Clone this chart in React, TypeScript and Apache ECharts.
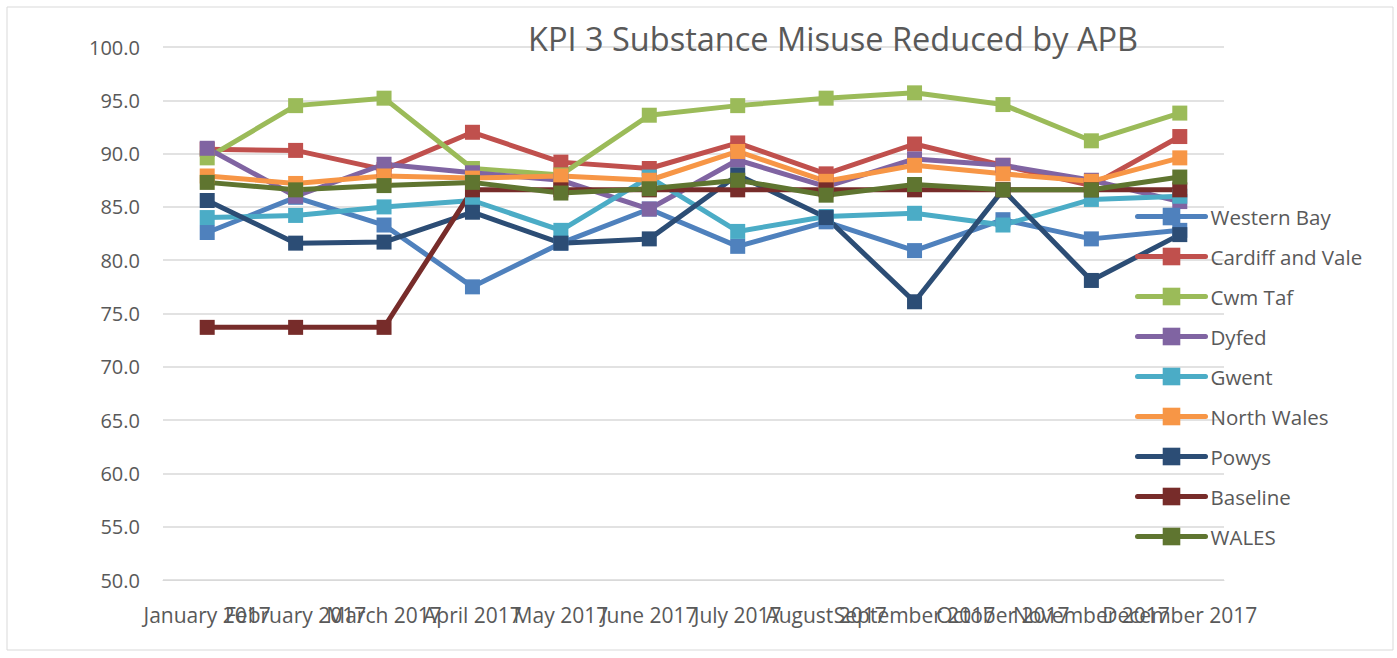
import React, { useEffect, useRef } from "react";
import * as echarts from "echarts";

const months = [
  "January 2017", "February 2017", "March 2017", "April 2017", "May 2017", "June 2017",
  "July 2017", "August 2017", "September 2017", "October 2017", "November 2017", "December 2017",
];
const westernBay = [82.6, 85.9, 83.3, 77.5, 81.6, 84.8, 81.3, 83.6, 80.9, 83.8, 82.0, 82.8];
const cardiffVale = [90.4, 90.3, 88.5, 92.0, 89.2, 88.6, 91.0, 88.1, 90.9, 88.9, 87.0, 91.6];
const cwmTaf = [89.6, 94.5, 95.2, 88.6, 88.0, 93.6, 94.5, 95.2, 95.7, 94.6, 91.2, 93.8];
const dyfed = [90.5, 86.0, 89.0, 88.2, 87.5, 84.8, 89.4, 86.9, 89.5, 88.9, 87.5, 85.5];
const gwent = [84.0, 84.2, 85.0, 85.6, 82.8, 87.8, 82.7, 84.1, 84.4, 83.3, 85.7, 86.0];
const northWales = [87.9, 87.2, 87.9, 87.7, 87.9, 87.5, 90.2, 87.4, 88.9, 88.1, 87.4, 89.6];
const powys = [85.6, 81.6, 81.7, 84.5, 81.6, 82.0, 88.0, 84.0, 76.1, 86.6, 78.1, 82.4];
const baseline = [73.7, 73.7, 73.7, 86.6, 86.6, 86.6, 86.6, 86.6, 86.6, 86.6, 86.6, 86.6];
const wales = [87.3, 86.6, 87.0, 87.3, 86.3, 86.7, 87.5, 86.1, 87.1, 86.6, 86.6, 87.8];
const yTicks = { min: 50, max: 100, interval: 5 };

const seriesDefs = [
  { name: "Western Bay", data: westernBay, color: "#4F81BD" },
  { name: "Cardiff and Vale", data: cardiffVale, color: "#C0504D" },
  { name: "Cwm Taf", data: cwmTaf, color: "#9BBB59" },
  { name: "Dyfed", data: dyfed, color: "#8064A2" },
  { name: "Gwent", data: gwent, color: "#4BACC6" },
  { name: "North Wales", data: northWales, color: "#F79646" },
  { name: "Powys", data: powys, color: "#2C4D75" },
  { name: "Baseline", data: baseline, color: "#772C2A" },
  { name: "WALES", data: wales, color: "#5F7530" },
];

const FONT = "'Open Sans', 'Noto Sans', sans-serif";

export default function App() {
  const ref = useRef<HTMLDivElement>(null);
  useEffect(() => {
    document.body.style.margin = "0";
    const chart = echarts.init(ref.current!, null, { renderer: "svg" });
    chart.setOption({
      animation: false,
      backgroundColor: "#ffffff",
      graphic: [
        {
          type: "rect",
          shape: { x: 7, y: 7, width: 1386, height: 643 },
          style: { fill: "none", stroke: "#d9d9d9", lineWidth: 1 },
          silent: true,
        },
      ],
      title: {
        text: "KPI 3 Substance Misuse Reduced by APB",
        left: 828,
        top: 17,
        textAlign: "center",
        textStyle: { fontFamily: FONT, fontSize: 32.5, fontWeight: "normal", color: "#595959" },
      },
      legend: {
        orient: "vertical",
        left: 1130,
        top: 201,
        itemWidth: 68,
        itemHeight: 22,
        itemGap: 19,
        data: seriesDefs.map((s) => s.name),
        lineStyle: { width: 5, cap: "round" },
        textStyle: { fontFamily: FONT, fontSize: 20.5, color: "#595959", padding: [0, 0, 0, 0] },
      },
      grid: { left: 163, right: 173, top: 47, bottom: 78, containLabel: false },
      xAxis: {
        type: "category",
        data: months,
        boundaryGap: true,
        axisLine: { lineStyle: { color: "#d9d9d9", width: 1 } },
        axisTick: { show: false },
        axisLabel: { interval: 0, fontFamily: FONT, fontSize: 21, color: "#595959", margin: 24 },
      },
      yAxis: {
        type: "value",
        min: yTicks.min,
        max: yTicks.max,
        interval: yTicks.interval,
        axisLine: { show: false },
        axisTick: { show: false },
        splitLine: { lineStyle: { color: "#d9d9d9", width: 1.5 } },
        axisLabel: {
          fontFamily: FONT,
          fontSize: 20,
          color: "#595959",
          margin: 23,
          formatter: (v: number) => v.toFixed(1),
        },
      },
      series: seriesDefs.map((s) => ({
        name: s.name,
        type: "line",
        data: s.data,
        symbol: "rect",
        symbolSize: 15,
        showSymbol: true,
        itemStyle: { color: s.color },
        lineStyle: { color: s.color, width: 5 },
      })),
    });
    return () => chart.dispose();
  }, []);
  return <div ref={ref} style={{ width: 1397, height: 658 }} />;
}
